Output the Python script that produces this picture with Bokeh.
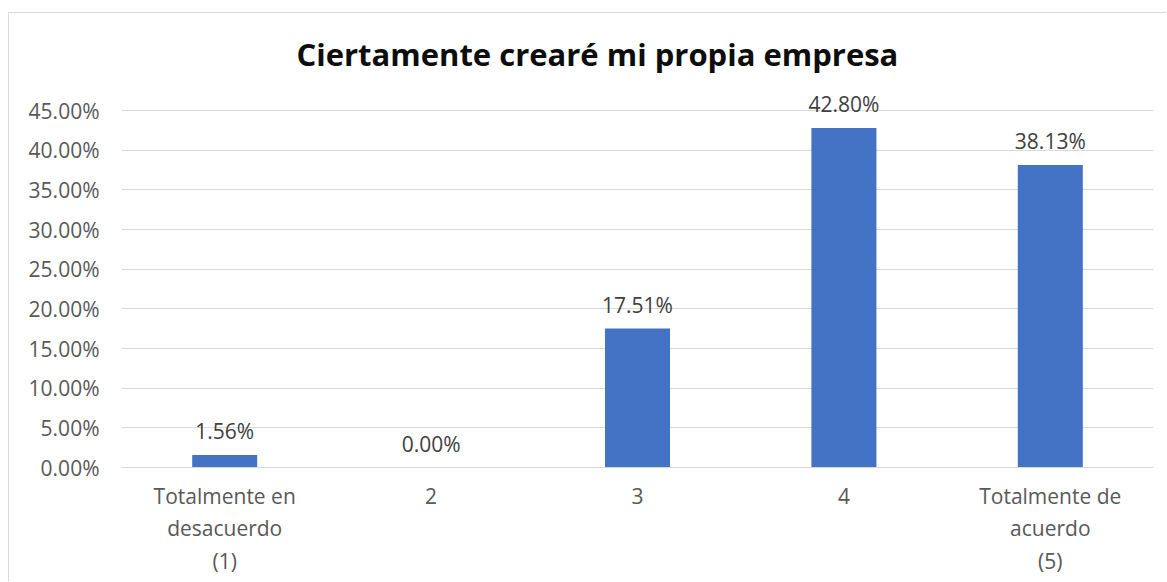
from bokeh.plotting import figure
from bokeh.models import ColumnDataSource, FactorRange, Range1d, FixedTicker, LabelSet
from bokeh.core.properties import value
from bokeh.embed import file_html
from bokeh.resources import INLINE

title_text = "Ciertamente crearé mi propia empresa"
categories = ["Totalmente en\ndesacuerdo\n(1)", "2", "3", "4", "Totalmente de\nacuerdo\n(5)"]
values = [1.56, 0.00, 17.51, 42.80, 38.13]
value_labels = ["1.56%", "0.00%", "17.51%", "42.80%", "38.13%"]
y_ticks = [0, 5, 10, 15, 20, 25, 30, 35, 40, 45]

FONT = "Open Sans"
OX, OY = 9, 13                       # chart box offset inside the page (border + margin)
W, H = 1167 - OX, 582 - OY
FL, FR = 121 - OX, 1153 - OX         # frame left/right (canvas px)
FB, FT = 467 - OY, 80 - OY           # frame bottom/top (canvas px)
PX_PER_UNIT = 357 / 45
y_end = (FB - FT) / PX_PER_UNIT

source = ColumnDataSource(dict(cat=categories, val=values, lab=value_labels))

p = figure(width=W, height=H, x_range=FactorRange(*categories), y_range=Range1d(0, y_end),
           output_backend="svg", toolbar_location=None,
           min_border_left=FL, min_border_right=W - FR, min_border_top=FT, min_border_bottom=H - FB,
           styles={"margin-left": "8px", "margin-top": "12px",
                   "border-left": "1px solid #d9d9d9", "border-top": "1px solid #d9d9d9"})
p.background_fill_color = "white"
p.border_fill_color = "white"
p.outline_line_color = None

p.title.text = title_text
p.title.align = "left"
p.title.offset = 175
p.title.standoff = 11
p.title.text_font = FONT
p.title.text_font_size = "31px"
p.title.text_font_style = "bold"
p.title.text_color = "#0d0d0d"

p.vbar(x="cat", top="val", width=0.315, source=source, fill_color="#4472C4", line_color=None)

labels = LabelSet(x="cat", y="val", text="lab", source=source, y_offset=24,
                  text_align="center", text_baseline="middle",
                  text_font=value(FONT), text_font_size="21px", text_color="#404040")
p.add_layout(labels)

p.yaxis.ticker = FixedTicker(ticks=y_ticks)
p.yaxis.major_label_overrides = {t: f"{t:.2f}%" for t in y_ticks}
p.yaxis.axis_line_color = None
p.yaxis.major_tick_line_color = None
p.yaxis.minor_tick_line_color = None
p.yaxis.major_tick_out = 0
p.yaxis.major_label_standoff = 22
p.yaxis.major_label_text_font = FONT
p.yaxis.major_label_text_font_size = "21px"
p.yaxis.major_label_text_color = "#595959"

p.xaxis.axis_line_color = "#d9d9d9"
p.xaxis.major_tick_line_color = None
p.xaxis.minor_tick_line_color = None
p.xaxis.major_tick_out = 0
p.xaxis.axis_label_standoff = 0
p.xaxis.major_label_standoff = 14
p.xaxis.major_label_text_font = FONT
p.xaxis.major_label_text_font_size = "21px"
p.xaxis.major_label_text_color = "#595959"
p.xaxis.major_label_text_line_height = 1.17

p.xgrid.grid_line_color = None
p.ygrid.grid_line_color = "#d9d9d9"
p.ygrid.grid_line_width = 1

open("out.html", "w").write(file_html(p, INLINE))
